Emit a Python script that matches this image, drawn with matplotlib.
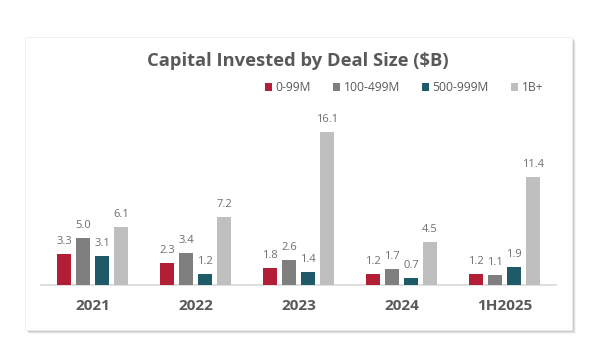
import numpy as np
import matplotlib.pyplot as plt
from matplotlib.patches import Rectangle, Patch

years = ["2021", "2022", "2023", "2024", "1H2025"]
series_names = ["0-99M", "100-499M", "500-999M", "1B+"]
v_small = [3.3, 2.3, 1.8, 1.2, 1.2]
v_mid = [5.0, 3.4, 2.6, 1.7, 1.1]
v_large = [3.1, 1.2, 1.4, 0.7, 1.9]
v_mega = [6.1, 7.2, 16.1, 4.5, 11.4]
colors = ["#B31E37", "#7F7F7F", "#1E5A68", "#BFBFBF"]

plt.rcParams["font.family"] = ["Open Sans", "DejaVu Sans"]

W, H = 600, 346
fig = plt.figure(figsize=(6, 3.46), dpi=100)
fig.patch.set_facecolor("white")

# card with soft shadow (pixel coords from top-left)
cx0, cy0, cx1, cy1 = 25, 37, 572, 330
for i, a in enumerate([0.14, 0.10, 0.07, 0.04]):
    off = 1 + i
    fig.patches.append(Rectangle(((cx0 + off) / W, 1 - (cy1 + off) / H),
                                 (cx1 - cx0) / W, (cy1 - cy0) / H,
                                 transform=fig.transFigure, facecolor="black",
                                 edgecolor="none", alpha=a, zorder=0))
fig.patches.append(Rectangle((cx0 / W, 1 - cy1 / H), (cx1 - cx0) / W, (cy1 - cy0) / H,
                             transform=fig.transFigure, facecolor="white",
                             edgecolor="#EEEEEE", linewidth=0.6, zorder=1))

ax = fig.add_axes([41 / W, (H - 285) / H, (556 - 41) / W, (285 - 115) / H])
ax.set_zorder(2)
ax.patch.set_alpha(0)

x = np.arange(len(years))
width = 0.14
step = 0.185
all_vals = [v_small, v_mid, v_large, v_mega]
for i, (vals, c) in enumerate(zip(all_vals, colors)):
    pos = x + (i - 1.5) * step
    bars = ax.bar(pos, vals, width, color=c, label=series_names[i], zorder=3)
    for b, v in zip(bars, vals):
        ax.annotate(f"{v:.1f}", (b.get_x() + b.get_width() / 2, v),
                    xytext=(0, 5), textcoords="offset points",
                    ha="center", va="bottom", fontsize=8, color="#6E6E6E")

ax.set_xlim(-0.5, 4.5)
ax.set_ylim(0, 17.9)
ax.set_yticks([])
ax.set_xticks(x)
ax.set_xticklabels(years, fontsize=11, fontweight="bold", color="#595959")
ax.tick_params(axis="x", length=0, pad=10)
for s in ["top", "right", "left"]:
    ax.spines[s].set_visible(False)
ax.spines["bottom"].set_color("#D9D9D9")
ax.spines["bottom"].set_linewidth(1.2)

fig.text(298 / W, 1 - 61 / H, "Capital Invested by Deal Size ($B)",
         ha="center", va="center", fontsize=13.2, fontweight="bold", color="#595959")

handles = [Patch(facecolor=c, edgecolor="none") for c in colors]
fig.legend(handles, series_names, loc="center left",
           bbox_to_anchor=(254 / W, 1 - 88 / H), ncol=4, frameon=False,
           fontsize=8.7, handlelength=0.6, handleheight=0.6, handletextpad=0.3,
           columnspacing=1.8, labelcolor="#595959")

fig.savefig("out.png", dpi=100)
